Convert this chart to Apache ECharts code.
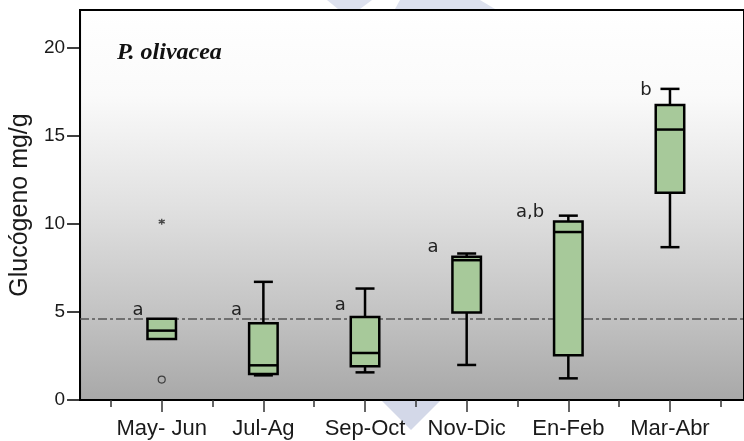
<!DOCTYPE html>
<html>
<head>
<meta charset="utf-8">
<script src="https://cdn.jsdelivr.net/npm/echarts@6/dist/echarts.min.js"></script>
<style>
  html, body { margin: 0; padding: 0; background: #ffffff; }
  #chart { width: 744px; height: 441px; }
</style>
</head>
<body>
<div id="chart"></div>
<script>
// Seasonal glycogen content (mg/g) of P. olivacea, summarised as box plots
const periods = ['May- Jun', 'Jul-Ag', 'Sep-Oct', 'Nov-Dic', 'En-Feb', 'Mar-Abr'];
const whiskerLow  = [3.47, 1.40, 1.57, 1.99, 1.23, 8.68];
const quartile1   = [3.47, 1.48, 1.92, 4.97, 2.54, 11.77];
const median      = [3.94, 1.97, 2.67, 7.94, 9.54, 15.36];
const quartile3   = [4.61, 4.36, 4.72, 8.13, 10.14, 16.76];
const whiskerHigh = [4.61, 6.71, 6.33, 8.32, 10.47, 17.67];

// Homogeneous groups and the level at which each letter is written
const groupLetters = ['a', 'a', 'a', 'a', 'a,b', 'b'];
const letterLevel  = [5.08, 5.08, 5.35, 8.66, 10.64, 17.58];

// Outlying observations: [period index, value]
const extremeValues = [[0, 10.13]];
const outlierValues = [[0, 1.16]];

// Overall reference level (dash-dot line)
const referenceLevel = 4.63;

// Value axis
const yTicks = [0, 5, 10, 15, 20];
const yMin = 0;
const yMax = 22.15;

const chart = echarts.init(document.getElementById('chart'), null, { renderer: 'canvas' });

const boxData = periods.map((p, i) => [i, whiskerLow[i], quartile1[i], median[i], quartile3[i], whiskerHigh[i]]);

const BOX_W = 28.5;
const CAP_HALF = 9.5;
const LW = 2.5;
// horizontal gap (px) between each letter and the left side of its box
const LETTER_GAP = [4, 7, 5, 14, 10, 4];

function renderBox(params, api) {
  const i = api.value(0);
  const lo = api.value(1), q1 = api.value(2), md = api.value(3), q3 = api.value(4), hi = api.value(5);
  const cx = api.coord([i, 0])[0];
  const y = v => api.coord([i, v])[1];
  const stroke = { stroke: '#000000', lineWidth: LW, fill: null };
  const children = [];
  if (hi > q3) {
    children.push({ type: 'line', shape: { x1: cx, y1: y(q3), x2: cx, y2: y(hi) }, style: stroke });
    children.push({ type: 'line', shape: { x1: cx - CAP_HALF, y1: y(hi), x2: cx + CAP_HALF, y2: y(hi) }, style: stroke });
  }
  if (lo < q1) {
    children.push({ type: 'line', shape: { x1: cx, y1: y(q1), x2: cx, y2: y(lo) }, style: stroke });
    children.push({ type: 'line', shape: { x1: cx - CAP_HALF, y1: y(lo), x2: cx + CAP_HALF, y2: y(lo) }, style: stroke });
  }
  children.push({
    type: 'rect',
    shape: { x: cx - BOX_W / 2, y: y(q3), width: BOX_W, height: y(q1) - y(q3) },
    style: { fill: '#a7c99a', stroke: '#000000', lineWidth: LW }
  });
  children.push({ type: 'line', shape: { x1: cx - BOX_W / 2, y1: y(md), x2: cx + BOX_W / 2, y2: y(md) }, style: stroke });
  children.push({
    type: 'text',
    x: cx - BOX_W / 2 - LETTER_GAP[i],
    y: y(letterLevel[i]),
    style: {
      text: groupLetters[i],
      font: '18px "DejaVu Sans"',
      fill: '#222222',
      align: 'right',
      verticalAlign: 'middle'
    }
  });
  return { type: 'group', children };
}

const option = {
  backgroundColor: '#ffffff',
  animation: false,
  graphic: [
    { type: 'polygon', z: -10, shape: { points: [[327, 0], [372, 0], [360, 9], [338, 9]] }, style: { fill: '#dde1ee' } },
    { type: 'polygon', z: -10, shape: { points: [[400, 0], [480, 0], [495, 9], [395, 9]] }, style: { fill: '#dde1ee' } },
    { type: 'polygon', z: -10, shape: { points: [[382, 401], [440, 401], [411, 430]] }, style: { fill: '#d3d8e8' } },
    {
      type: 'text', left: 117, top: 41, z: 10,
      style: { text: 'P. olivacea', font: 'italic bold 24px "Liberation Serif"', fill: '#111111' }
    }
  ],
  grid: [
    {
      // frame with shaded background
      left: 77, top: 10, right: -100, bottom: 41,
      show: true,
      borderColor: '#000000',
      borderWidth: 2,
      backgroundColor: {
        type: 'linear', x: 0, y: 0, x2: 0, y2: 1,
        colorStops: [
          { offset: 0, color: '#ffffff' },
          { offset: 0.22, color: '#fafafa' },
          { offset: 0.5, color: '#e1e1e1' },
          { offset: 0.75, color: '#c6c6c6' },
          { offset: 1, color: '#a8a8a8' }
        ]
      }
    },
    {
      // periods area
      left: 110.9, top: 10, right: 23.2, bottom: 41
    }
  ],
  xAxis: [
    { gridIndex: 0, type: 'value', min: 0, max: 1, show: false },
    {
      gridIndex: 1, type: 'category', data: periods, position: 'bottom',
      axisLine: { show: true, lineStyle: { color: '#000000', width: 2 } },
      axisTick: { show: true, alignWithLabel: true, interval: 0, length: 12, lineStyle: { color: '#333333', width: 1.5 } },
      axisLabel: { interval: 0, margin: 18, fontSize: 22, fontFamily: 'Liberation Sans', color: '#1a1a1a' }
    },
    {
      gridIndex: 1, type: 'category', data: periods, position: 'bottom',
      axisLine: { show: false },
      axisTick: { show: true, interval: 0, length: 7, lineStyle: { color: '#333333', width: 1.5 } },
      axisLabel: { show: false }
    }
  ],
  yAxis: [
    {
      gridIndex: 0, type: 'value', min: yMin, max: yMax,
      name: 'Glucógeno mg/g',
      nameLocation: 'middle',
      nameGap: 44,
      nameRotate: 90,
      nameTextStyle: { fontSize: 25, fontFamily: 'Liberation Sans', color: '#1a1a1a' },
      axisLine: { show: true, lineStyle: { color: '#000000', width: 2 } },
      axisTick: { show: true, inside: false, length: 13, customValues: yTicks, lineStyle: { color: '#000000', width: 1.5 } },
      axisLabel: { margin: 15, customValues: yTicks, fontSize: 19, fontFamily: 'Liberation Sans', color: '#1a1a1a' },
      splitLine: { show: false }
    },
    { gridIndex: 1, type: 'value', min: yMin, max: yMax, show: false }
  ],
  series: [
    {
      type: 'line',
      xAxisIndex: 0, yAxisIndex: 0,
      data: [],
      silent: true,
      markLine: {
        silent: true,
        symbol: ['none', 'none'],
        label: { show: false },
        lineStyle: { color: '#555555', width: 1.5, type: [9, 3, 3, 3] },
        data: [{ yAxis: referenceLevel }]
      }
    },
    {
      type: 'custom',
      xAxisIndex: 1, yAxisIndex: 1,
      data: boxData,
      encode: { x: 0, y: [1, 2, 3, 4, 5] },
      renderItem: renderBox,
      z: 5
    },
    {
      type: 'scatter',
      xAxisIndex: 1, yAxisIndex: 1,
      data: outlierValues,
      symbol: 'circle',
      symbolSize: 7,
      itemStyle: { color: 'rgba(0,0,0,0)', borderColor: '#222222', borderWidth: 1.2 },
      z: 6
    },
    {
      type: 'scatter',
      xAxisIndex: 1, yAxisIndex: 1,
      data: extremeValues,
      symbol: 'path://M5,0L5,10M0.7,2.5L9.3,7.5M0.7,7.5L9.3,2.5',
      symbolSize: 6,
      itemStyle: { color: 'rgba(0,0,0,0)', borderColor: '#222222', borderWidth: 1.3 },
      z: 6
    }
  ]
};

chart.setOption(option);
</script>
</body>
</html>
